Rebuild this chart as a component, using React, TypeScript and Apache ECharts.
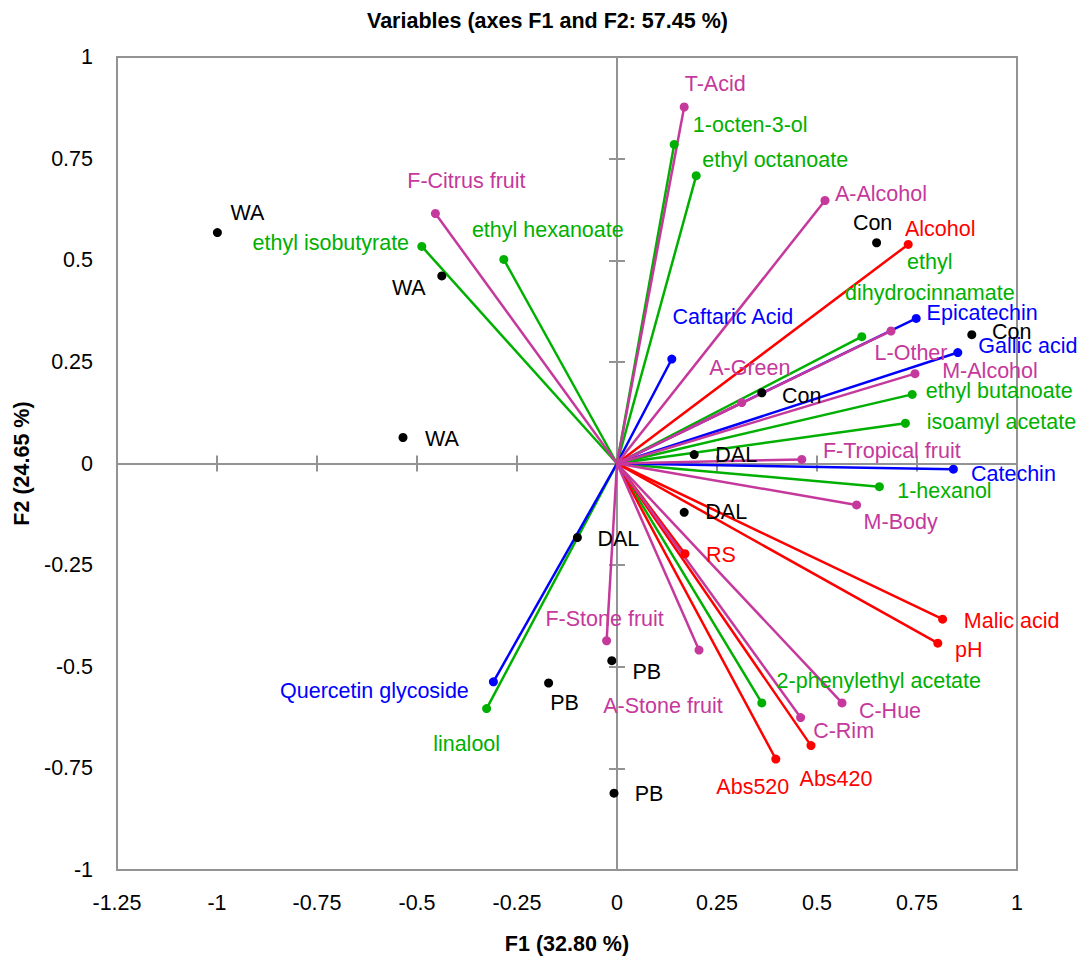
import React, { useEffect, useRef } from "react";
import * as echarts from "echarts";

// ---------- Texts ----------
const chartTitle = "Variables (axes F1 and F2: 57.45 %)";
const xAxisName = "F1 (32.80 %)";
const yAxisName = "F2 (24.65 %)";

// ---------- Axis ranges ----------
const xMin = -1.25;
const xMax = 1;
const yMin = -1;
const yMax = 1;
const tickStep = 0.25;

// ---------- Variables (loadings on F1 / F2) ----------
const variableNames = [
  "T-Acid",
  "1-octen-3-ol",
  "ethyl octanoate",
  "F-Citrus fruit",
  "ethyl isobutyrate",
  "ethyl hexanoate",
  "Caftaric Acid",
  "A-Alcohol",
  "Alcohol",
  "ethyl dihydrocinnamate",
  "L-Other",
  "Epicatechin",
  "Gallic acid",
  "M-Alcohol",
  "ethyl butanoate",
  "isoamyl acetate",
  "A-Green",
  "F-Tropical fruit",
  "Catechin",
  "1-hexanol",
  "M-Body",
  "RS",
  "Malic acid",
  "pH",
  "A-Stone fruit",
  "F-Stone fruit",
  "Quercetin glycoside",
  "linalool",
  "2-phenylethyl acetate",
  "C-Hue",
  "C-Rim",
  "Abs420",
  "Abs520",
];
const variableF1 = [
  0.168, 0.143, 0.198, -0.454, -0.488, -0.283, 0.137, 0.52, 0.728, 0.612, 0.685,
  0.748, 0.852, 0.745, 0.738, 0.721, 0.312, 0.462, 0.841, 0.656, 0.599, 0.17,
  0.814, 0.802, 0.205, -0.026, -0.309, -0.326, 0.362, 0.5625, 0.459, 0.485, 0.397,
];
const variableF2 = [
  0.877, 0.785, 0.708, 0.615, 0.534, 0.502, 0.257, 0.647, 0.539, 0.312, 0.326,
  0.357, 0.273, 0.221, 0.17, 0.099, 0.15, 0.01, -0.014, -0.057, -0.102, -0.222,
  -0.383, -0.442, -0.459, -0.436, -0.537, -0.603, -0.589, -0.589, -0.625, -0.694, -0.727,
];
const variableGroups = [
  "sensory", "volatile", "volatile", "sensory", "volatile", "volatile", "phenolic",
  "sensory", "chemical", "volatile", "sensory", "phenolic", "phenolic", "sensory",
  "volatile", "volatile", "sensory", "sensory", "phenolic", "volatile", "sensory",
  "chemical", "chemical", "chemical", "sensory", "sensory", "phenolic", "volatile",
  "volatile", "sensory", "sensory", "chemical", "chemical",
];

// ---------- Observations (scores on F1 / F2) ----------
const observationNames = ["WA", "WA", "WA", "Con", "Con", "Con", "DAL", "DAL", "DAL", "PB", "PB", "PB"];
const observationF1 = [-0.999, -0.438, -0.535, 0.649, 0.887, 0.362, 0.193, 0.168, -0.099, -0.013, -0.171, -0.0075];
const observationF2 = [0.568, 0.4615, 0.064, 0.543, 0.317, 0.174, 0.022, -0.12, -0.182, -0.485, -0.54, -0.811];

// ---------- Styling (not data) ----------
const FONT = "'Liberation Sans', Arial, Helvetica, sans-serif";
const FONT_SIZE = 21.5;
const AXIS_GRAY = "#939393";
const GROUP_COLORS: Record<string, string> = {
  volatile: "#00b000",
  sensory: "#c5389c",
  chemical: "#ff0000",
  phenolic: "#0000ff",
};
const DRAW_ORDER = ["volatile", "phenolic", "chemical", "sensory"];
const LABEL_TEXT_OVERRIDES: Record<string, string> = {
  "ethyl dihydrocinnamate": "ethyl\ndihydrocinnamate",
};
// label centre offsets from the point, in pixels
const VARIABLE_LABEL_OFFSETS: Record<string, [number, number]> = {
  "T-Acid": [31, -23],
  "1-octen-3-ol": [76, -19],
  "ethyl octanoate": [79, -16],
  "F-Citrus fruit": [31, -33],
  "ethyl isobutyrate": [-91, -3],
  "ethyl hexanoate": [44, -29],
  "Caftaric Acid": [61, -42],
  "A-Alcohol": [56, -6],
  Alcohol: [32, -15],
  "ethyl dihydrocinnamate": [68, -59],
  "L-Other": [20, 22],
  Epicatechin: [66, -5],
  "Gallic acid": [70, -7],
  "M-Alcohol": [75, -3],
  "ethyl butanoate": [87, -3],
  "isoamyl acetate": [96, -1],
  "A-Green": [8, -35],
  "F-Tropical fruit": [90, -8],
  Catechin: [60, 5],
  "1-hexanol": [65, 4],
  "M-Body": [44, 17],
  RS: [36, 1],
  "Malic acid": [69, 2],
  pH: [31, 7],
  "A-Stone fruit": [-36, 56],
  "F-Stone fruit": [-2, -22],
  "Quercetin glycoside": [-119, 9],
  linalool: [-20, 35],
  "2-phenylethyl acetate": [117, -22],
  "C-Hue": [48, 8],
  "C-Rim": [43, 13],
  Abs420: [25, 33],
  Abs520: [-23, 28],
};
const OBSERVATION_LABEL_OFFSETS: [number, number][] = [
  [30, -20], [-33, 12], [39, 2],
  [-4, -20], [40, -3], [40, 3],
  [42, 0], [42, 0], [41, 2],
  [35, 11], [16, 20], [35, 1],
];

function buildOption() {
  const series: any[] = [];
  DRAW_ORDER.forEach((group) => {
    variableNames.forEach((name, i) => {
      if (variableGroups[i] !== group) return;
      const color = GROUP_COLORS[group];
      const offset = VARIABLE_LABEL_OFFSETS[name] || [0, 0];
      const text = LABEL_TEXT_OVERRIDES[name] || name;
      series.push({
        type: "line",
        name,
        silent: true,
        symbol: "circle",
        symbolSize: 9,
        showSymbol: true,
        lineStyle: { color, width: 2.5 },
        itemStyle: { color, opacity: 1 },
        label: { show: false },
        emphasis: { disabled: true },
        z: 3,
        data: [
          { value: [0, 0], symbol: "none", label: { show: false } },
          {
            value: [variableF1[i], variableF2[i]],
            label: {
              show: true,
              position: "inside",
              offset,
              formatter: text,
              color,
              fontSize: FONT_SIZE,
              fontFamily: FONT,
              lineHeight: 31,
              align: "center",
              verticalAlign: "middle",
            },
          },
        ],
      });
    });
  });

  series.push({
    type: "scatter",
    name: "observations",
    silent: true,
    symbol: "circle",
    symbolSize: 9,
    itemStyle: { color: "#000000", opacity: 1 },
    emphasis: { disabled: true },
    z: 4,
    data: observationNames.map((n, i) => ({
      value: [observationF1[i], observationF2[i]],
      name: n,
      label: {
        show: true,
        position: "inside",
        offset: OBSERVATION_LABEL_OFFSETS[i],
        formatter: n,
        color: "#000000",
        fontSize: FONT_SIZE,
        fontFamily: FONT,
        align: "center",
        verticalAlign: "middle",
      },
    })),
  });

  const labelStyle = { color: "#000", fontSize: FONT_SIZE, fontFamily: FONT };
  const nameStyle = { color: "#000", fontSize: FONT_SIZE, fontFamily: FONT, fontWeight: "bold" as const };
  const zeroLine = { show: true, onZero: true, onZeroAxisIndex: 0, lineStyle: { color: AXIS_GRAY, width: 2 } };

  const xBase = { type: "value", min: xMin, max: xMax, interval: tickStep, splitLine: { show: false } };
  const yBase = { type: "value", min: yMin, max: yMax, interval: tickStep, splitLine: { show: false } };

  return {
    animation: false,
    backgroundColor: "#ffffff",
    title: {
      text: chartTitle,
      left: 367,
      top: 10,
      padding: 0,
      textStyle: { ...nameStyle },
    },
    grid: {
      left: 117,
      right: 69,
      top: 57,
      bottom: 87,
      show: true,
      borderColor: AXIS_GRAY,
      borderWidth: 2,
      backgroundColor: "transparent",
    },
    xAxis: [
      {
        ...xBase,
        position: "bottom",
        axisLine: { show: false, onZero: false },
        axisTick: { show: false },
        axisLabel: { ...labelStyle, margin: 22 },
        name: xAxisName,
        nameLocation: "middle",
        nameGap: 63,
        nameTextStyle: nameStyle,
      },
      {
        ...xBase,
        position: "bottom",
        axisLine: zeroLine,
        axisTick: { show: true, inside: false, length: 8, lineStyle: { color: AXIS_GRAY, width: 2 } },
        axisLabel: { show: false },
      },
      {
        ...xBase,
        position: "bottom",
        axisLine: zeroLine,
        axisTick: { show: true, inside: true, length: 8, lineStyle: { color: AXIS_GRAY, width: 2 } },
        axisLabel: { show: false },
      },
    ],
    yAxis: [
      {
        ...yBase,
        position: "left",
        axisLine: { show: false, onZero: false },
        axisTick: { show: false },
        axisLabel: { ...labelStyle, margin: 24 },
        name: yAxisName,
        nameLocation: "middle",
        nameRotate: 90,
        nameGap: 84,
        nameTextStyle: nameStyle,
      },
      {
        ...yBase,
        position: "left",
        axisLine: zeroLine,
        axisTick: { show: true, inside: false, length: 8, lineStyle: { color: AXIS_GRAY, width: 2 } },
        axisLabel: { show: false },
      },
      {
        ...yBase,
        position: "left",
        axisLine: zeroLine,
        axisTick: { show: true, inside: true, length: 8, lineStyle: { color: AXIS_GRAY, width: 2 } },
        axisLabel: { show: false },
      },
    ],
    series,
  };
}

export default function App() {
  const ref = useRef<HTMLDivElement | null>(null);
  useEffect(() => {
    if (!ref.current) return;
    const chart = echarts.init(ref.current, undefined, { renderer: "svg" });
    chart.setOption(buildOption() as any);
    return () => {
      chart.dispose();
    };
  }, []);
  return (
    <div
      ref={ref}
      style={{ position: "absolute", left: 0, top: 0, width: 1086, height: 960, background: "#fff" }}
    />
  );
}
